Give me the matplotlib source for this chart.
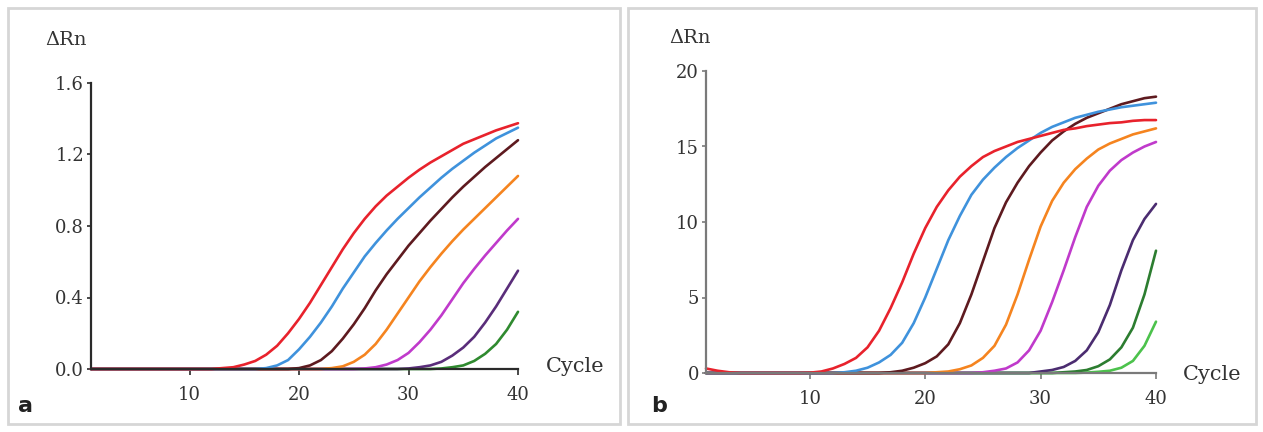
import numpy as np
import matplotlib.pyplot as plt
from matplotlib.patches import Rectangle

cycles = np.arange(1, 41)

# panel a - delta Rn per cycle
a_red = [0]*12 + [0.005, 0.01, 0.025, 0.045, 0.08, 0.13, 0.2, 0.28, 0.37, 0.47, 0.57, 0.67,
                  0.76, 0.84, 0.91, 0.97, 1.02, 1.07, 1.115, 1.155, 1.19, 1.225, 1.26, 1.285,
                  1.31, 1.335, 1.355, 1.375]
a_blue = [0]*16 + [0.005, 0.02, 0.05, 0.11, 0.18, 0.26, 0.35, 0.45, 0.54, 0.63, 0.705, 0.775,
                   0.84, 0.9, 0.96, 1.015, 1.07, 1.12, 1.165, 1.21, 1.25, 1.29, 1.32, 1.35]
a_brown = [0]*19 + [0.005, 0.02, 0.05, 0.1, 0.17, 0.25, 0.34, 0.44, 0.53, 0.61, 0.69, 0.76,
                    0.83, 0.895, 0.96, 1.02, 1.075, 1.13, 1.18, 1.23, 1.28]
a_orange = [0]*22 + [0.005, 0.015, 0.04, 0.08, 0.14, 0.22, 0.31, 0.4, 0.49, 0.57, 0.645, 0.715,
                     0.78, 0.84, 0.9, 0.96, 1.02, 1.08]
a_magenta = [0]*25 + [0.003, 0.01, 0.025, 0.05, 0.09, 0.15, 0.22, 0.3, 0.39, 0.48, 0.56, 0.635,
                      0.705, 0.775, 0.84]
a_purple = [0]*29 + [0.003, 0.01, 0.02, 0.04, 0.075, 0.12, 0.18, 0.26, 0.35, 0.45, 0.55]
a_green = [0]*32 + [0.003, 0.01, 0.02, 0.045, 0.085, 0.14, 0.22, 0.32]

# panel b
b_red = [0.3, 0.15, 0.05, 0, 0, 0, 0, 0, 0, 0.02, 0.1, 0.3, 0.6, 1.0, 1.7, 2.8, 4.3, 6.0, 7.9,
         9.6, 11.0, 12.1, 13.0, 13.7, 14.3, 14.7, 15.0, 15.3, 15.5, 15.7, 15.9, 16.1, 16.2,
         16.35, 16.45, 16.55, 16.6, 16.7, 16.75, 16.75]
b_blue = [0]*12 + [0.05, 0.15, 0.35, 0.7, 1.2, 2.0, 3.3, 5.0, 6.9, 8.8, 10.4, 11.8, 12.8, 13.6,
                   14.3, 14.9, 15.4, 15.9, 16.3, 16.6, 16.9, 17.1, 17.3, 17.45, 17.6, 17.7,
                   17.8, 17.9]
b_brown = [0]*16 + [0.05, 0.15, 0.35, 0.65, 1.1, 1.9, 3.3, 5.2, 7.4, 9.6, 11.3, 12.6, 13.7, 14.6,
                    15.4, 16.0, 16.5, 16.9, 17.2, 17.5, 17.8, 18.0, 18.2, 18.3]
b_orange = [0]*20 + [0.05, 0.1, 0.25, 0.5, 1.0, 1.8, 3.2, 5.2, 7.5, 9.7, 11.4, 12.6, 13.5, 14.2,
                     14.8, 15.2, 15.5, 15.8, 16.0, 16.2]
b_magenta = [0]*24 + [0.05, 0.15, 0.3, 0.7, 1.5, 2.8, 4.7, 6.8, 9.0, 11.0, 12.4, 13.4, 14.1,
                      14.6, 15.0, 15.3]
b_purple = [0]*29 + [0.1, 0.2, 0.4, 0.8, 1.5, 2.7, 4.5, 6.8, 8.8, 10.2, 11.2]
b_dgreen = [0]*31 + [0.05, 0.1, 0.2, 0.45, 0.9, 1.7, 3.0, 5.2, 8.1]
b_lgreen = [0]*33 + [0.03, 0.08, 0.15, 0.35, 0.8, 1.8, 3.4]

a_series = [a_green, a_purple, a_magenta, a_orange, a_brown, a_blue, a_red]
a_colors = ['#2f8a2f', '#5a2d7a', '#c03acb', '#f5841f', '#5e1a1f', '#3f92dc', '#e8222c']
b_series = [b_lgreen, b_dgreen, b_purple, b_magenta, b_orange, b_brown, b_blue, b_red]
b_colors = ['#4cc24c', '#2c7d30', '#4b2c70', '#c03acb', '#f5841f', '#5e1a1f', '#3f92dc', '#e8222c']

a_yticks = [0, 0.4, 0.8, 1.2, 1.6]
a_ylabels = ['0.0', '0.4', '0.8', '1.2', '1.6']
b_yticks = [0, 5, 10, 15, 20]
b_ylabels = ['0', '5', '10', '15', '20']
xticks = [10, 20, 30, 40]

serif = 'DejaVu Serif'

fig = plt.figure(figsize=(12.63, 4.32), dpi=100)

# panel frames
for x0, w in [(8 / 1263, 612 / 1263), (628 / 1263, 628 / 1263)]:
    fig.patches.append(Rectangle((x0, 8 / 432), w, 416 / 432, transform=fig.transFigure,
                                 fill=False, edgecolor='#d6d6d6', linewidth=2))


def draw(rect, series, colors, yticks, ylabels, axcol):
    ax = fig.add_axes(rect)
    for s, c in zip(series, colors):
        ax.plot(cycles, s, color=c, lw=1.9, solid_capstyle='round', clip_on=False)
    ax.set_xlim(1, 40)
    ax.set_ylim(yticks[0], yticks[-1])
    ax.set_xticks(xticks)
    ax.set_xticklabels([str(t) for t in xticks], family=serif, fontsize=13, color='#333333')
    ax.set_yticks(yticks)
    ax.set_yticklabels(ylabels, family=serif, fontsize=13, color='#333333')
    for side in ['top', 'right']:
        ax.spines[side].set_visible(False)
    for side in ['left', 'bottom']:
        ax.spines[side].set_color(axcol)
        ax.spines[side].set_linewidth(1.6)
    ax.tick_params(axis='x', length=4, width=1.2, color=axcol, pad=8)
    ax.tick_params(axis='y', length=3, width=1.2, color=axcol, pad=2)
    return ax


ax1 = draw([91 / 1263, 63 / 432, 427 / 1263, 286 / 432], a_series, a_colors,
           a_yticks, a_ylabels, '#2a2a2a')
ax2 = draw([706 / 1263, 59 / 432, 450 / 1263, 302 / 432], b_series, b_colors,
           b_yticks, b_ylabels, '#7a7a7a')

fig.text(66 / 1263, 1 - 40 / 432, 'ΔRn', family=serif, fontsize=14, ha='center', va='center',
         color='#333333')
fig.text(575 / 1263, 1 - 367 / 432, 'Cycle', family=serif, fontsize=15, ha='center', va='center',
         color='#333333')
fig.text(18 / 1263, 1 - 406 / 432, 'a', family='DejaVu Sans', fontsize=16, fontweight='bold',
         ha='left', va='center', color='#222222')

fig.text(690 / 1263, 1 - 38 / 432, 'ΔRn', family=serif, fontsize=14, ha='center', va='center',
         color='#333333')
fig.text(1212 / 1263, 1 - 374 / 432, 'Cycle', family=serif, fontsize=15, ha='center', va='center',
         color='#333333')
fig.text(651 / 1263, 1 - 406 / 432, 'b', family='DejaVu Sans', fontsize=16, fontweight='bold',
         ha='left', va='center', color='#222222')

fig.savefig('out.png', dpi=100)
